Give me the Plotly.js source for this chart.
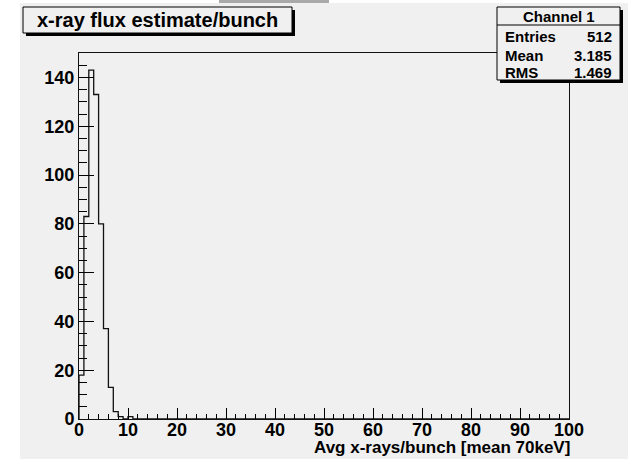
<!DOCTYPE html>
<html>
<head>
<meta charset="utf-8">
<script src="https://cdn.plot.ly/plotly-3.0.1.min.js"></script>
<style>
  html, body { margin: 0; padding: 0; background: #ffffff; width: 628px; height: 459px; overflow: hidden; }
  #topbar { position: absolute; left: 219px; top: 0; width: 110px; height: 3px; background: #a9a9a9; }
  #chart { position: absolute; left: 20px; top: 3px; width: 608px; height: 456px; }
</style>
</head>
<body>
<div id="topbar"></div>
<div id="chart"></div>
<script>
// ---- data ----
var binLowEdges = [0, 1, 2, 3, 4, 5, 6, 7, 8, 9, 10];
var binCounts   = [18, 83, 143, 133, 80, 37, 13, 3, 1, 0, 1];
var binWidth = 1;
var xTickVals = [0, 10, 20, 30, 40, 50, 60, 70, 80, 90, 100];
var yTickVals = [0, 20, 40, 60, 80, 100, 120, 140];
var titleText = "x-ray flux estimate/bunch";
var xTitle = "Avg x-rays/bunch [mean 70keV]";
var statsName = "Channel 1";
var statsLabels = ["Entries", "Mean", "RMS"];
var statsValues = ["512", "3.185", "1.469"];

// build step outline
var xs = [binLowEdges[0]];
var ys = [0];
for (var i = 0; i < binLowEdges.length; i++) { xs.push(binLowEdges[i]); ys.push(binCounts[i]); }
xs.push(binLowEdges[binLowEdges.length - 1] + binWidth); ys.push(0);
xs.push(100); ys.push(0);

var W = 608, H = 456, ML = 59, MR = 59, MT = 50, MB = 40;
var PW = W - ML - MR, PH = H - MT - MB;
function px(x) { return (x - ML) / PW; }       // div pixel -> paper x
function py(y) { return 1 - (y - MT) / PH; }   // div pixel -> paper y

var BG = "#f0f0f0";
var FONT = "Liberation Sans, Arial, sans-serif";

var trace = {
  x: xs, y: ys, type: "scatter", mode: "lines",
  line: { shape: "hv", color: "#111111", width: 1.3 },
  cliponaxis: false, hoverinfo: "skip", showlegend: false
};

// boxes (div pixel coords)
var tb = { x0: 3, y0: 4, x1: 272, y1: 30 };
var sb = { x0: 477, y0: 4, x1: 600, y1: 77 };
var headerY = 22;

var shapes = [
  { type: "rect", xref: "paper", yref: "paper", x0: px(tb.x0 + 3), x1: px(tb.x1 + 3), y0: py(tb.y0 + 3), y1: py(tb.y1 + 3), fillcolor: "#000", line: { width: 0 }, layer: "above" },
  { type: "rect", xref: "paper", yref: "paper", x0: px(tb.x0), x1: px(tb.x1), y0: py(tb.y0), y1: py(tb.y1), fillcolor: BG, line: { color: "#000", width: 1 }, layer: "above" },
  { type: "rect", xref: "paper", yref: "paper", x0: px(sb.x0 + 3), x1: px(sb.x1 + 3), y0: py(sb.y0 + 3), y1: py(sb.y1 + 3), fillcolor: "#000", line: { width: 0 }, layer: "above" },
  { type: "rect", xref: "paper", yref: "paper", x0: px(sb.x0), x1: px(sb.x1), y0: py(sb.y0), y1: py(sb.y1), fillcolor: BG, line: { color: "#000", width: 1 }, layer: "above" },
  { type: "line", xref: "paper", yref: "paper", x0: px(sb.x0), x1: px(sb.x1), y0: py(headerY), y1: py(headerY), line: { color: "#000", width: 1 }, layer: "above" }
];

var annotations = [
  { text: "<b>" + titleText + "</b>", xref: "paper", yref: "paper", x: px((tb.x0 + tb.x1) / 2), y: py((tb.y0 + tb.y1) / 2), xanchor: "center", yanchor: "middle", showarrow: false, font: { family: FONT, size: 20, color: "#000" } },
  { text: "<b>" + statsName + "</b>", xref: "paper", yref: "paper", x: px((sb.x0 + sb.x1) / 2), y: py(13.5), xanchor: "center", yanchor: "middle", showarrow: false, font: { family: FONT, size: 15, color: "#000" } },
  { text: "<b>" + xTitle + "</b>", xref: "paper", yref: "paper", x: px(ML + PW + 3), y: py(433), xanchor: "right", yanchor: "top", showarrow: false, font: { family: FONT, size: 17, color: "#000" } }
];
var rowY = [33.5, 52, 70];
for (var k = 0; k < statsLabels.length; k++) {
  annotations.push({ text: "<b>" + statsLabels[k] + "</b>", xref: "paper", yref: "paper", x: px(sb.x0 + 6), y: py(rowY[k]), xanchor: "left", yanchor: "middle", showarrow: false, font: { family: FONT, size: 15, color: "#000" } });
  annotations.push({ text: "<b>" + statsValues[k] + "</b>", xref: "paper", yref: "paper", x: px(sb.x1 - 6), y: py(rowY[k]), xanchor: "right", yanchor: "middle", showarrow: false, font: { family: FONT, size: 15, color: "#000" } });
}

var layout = {
  width: W, height: H,
  margin: { l: ML, r: MR, t: MT, b: MB, pad: 0 },
  paper_bgcolor: BG, plot_bgcolor: BG,
  font: { family: FONT, size: 18, color: "#000", weight: "bold" },
  showlegend: false,
  xaxis: {
    range: [0, 100], autorange: false, showgrid: false, zeroline: false,
    showline: true, mirror: true, linecolor: "#111", linewidth: 1,
    ticks: "inside", ticklen: 11, tickwidth: 1, tickcolor: "#000",
    tickvals: xTickVals, ticktext: xTickVals.map(String),
    tickfont: { family: FONT, size: 18, color: "#000", weight: "bold" },
    ticklabelstandoff: -6,
    minor: { dtick: 2, ticks: "inside", ticklen: 5.5, tickwidth: 1, tickcolor: "#000", showgrid: false },
    fixedrange: true
  },
  yaxis: {
    range: [0, 150], autorange: false, showgrid: false, zeroline: false,
    showline: true, mirror: true, linecolor: "#111", linewidth: 1,
    ticks: "inside", ticklen: 15, tickwidth: 1, tickcolor: "#000",
    tickvals: yTickVals, ticktext: yTickVals.map(String),
    tickfont: { family: FONT, size: 18, color: "#000", weight: "bold" },
    ticklabelstandoff: 0,
    minor: { dtick: 5, ticks: "inside", ticklen: 7.5, tickwidth: 1, tickcolor: "#000", showgrid: false },
    fixedrange: true
  },
  shapes: shapes,
  annotations: annotations
};

Plotly.newPlot("chart", [trace], layout, { staticPlot: true, displayModeBar: false });
</script>
</body>
</html>
